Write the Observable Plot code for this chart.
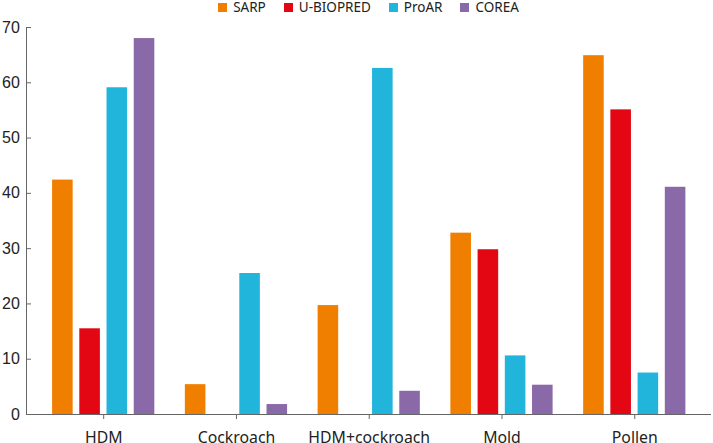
<!DOCTYPE html>
<html><head><meta charset="utf-8">
<script src="https://cdn.jsdelivr.net/npm/d3@7"></script>
<script src="https://cdn.jsdelivr.net/npm/@observablehq/plot@0.6"></script>
<style>
body{margin:0;background:#fff;}
#wrap{width:713px;position:relative;}
#legend{position:absolute;top:-2px;left:26px;right:2px;height:18px;display:flex;justify-content:center;align-items:center;font-family:"Noto Sans",sans-serif;font-size:13.5px;color:#222;line-height:18px;}
.item{display:flex;align-items:center;margin:0 9px;white-space:nowrap;}
.sw{width:9px;height:9px;margin-right:6px;flex:none;}
</style>
</head><body>
<div id="wrap"><div id="chart"></div><div id="legend"></div></div>
<script>
const categories = ["HDM", "Cockroach", "HDM+cockroach", "Mold", "Pollen"];
const seriesNames = ["SARP", "U-BIOPRED", "ProAR", "COREA"];
const seriesColors = ["#f07f00", "#e30613", "#22b5dc", "#8a69a8"];
const sarp = [42.4, 5.4, 19.7, 32.8, 64.9];
const ubiopred = [15.5, null, null, 29.8, 55.1];
const proar = [59.1, 25.5, 62.6, 10.6, 7.5];
const corea = [68.0, 1.8, 4.2, 5.3, 41.1];
const yTicks = [0, 10, 20, 30, 40, 50, 60, 70];

const seriesValues = [sarp, ubiopred, proar, corea];
const rows = [];
categories.forEach((c, i) => seriesNames.forEach((s, j) => {
  const v = seriesValues[j][i];
  if (v != null) rows.push({category: c, gi: i, si: j, series: s, value: v});
}));

// layout in group units
const barStep = 0.205, barWidth = 0.155;
const xDomain = [-0.5815, 4.578];
const center = d => d.gi + (d.si - 1.5) * barStep;

const chart = Plot.plot({
  width: 713, height: 443,
  marginLeft: 26, marginRight: 2, marginTop: 27, marginBottom: 29,
  style: {fontFamily: "Noto Sans, sans-serif", color: "#222", background: "#fff"},
  x: {type: "linear", domain: xDomain, axis: null},
  y: {domain: [0, 70], axis: null},
  color: {domain: seriesNames, range: seriesColors},
  marks: [
    Plot.rectY(rows, {x1: d => center(d) - barWidth / 2, x2: d => center(d) + barWidth / 2, y: "value", fill: "series"}),
    Plot.ruleY([0], {stroke: "#666"}),
    Plot.ruleX([xDomain[0]], {stroke: "#666"}),
    Plot.axisY(yTicks, {anchor: "left", label: null, tickSize: -5, tickPadding: 11.7, stroke: "#666", fill: "#222", fontSize: 16, fontFamily: "Liberation Sans, Arial, sans-serif"}),
    Plot.axisX(categories.map((c, i) => i), {anchor: "bottom", label: null, tickSize: 5, tickPadding: 12.2, tickFormat: i => categories[i], stroke: "#666", fill: "#222", fontSize: 15.8})
  ]
});
document.getElementById("chart").appendChild(chart);

const legend = d3.select("#legend");
seriesNames.forEach((s, j) => {
  const it = legend.append("div").attr("class", "item");
  it.append("div").attr("class", "sw").style("background", seriesColors[j]);
  it.append("span").text(s);
});
</script>
</body></html>
